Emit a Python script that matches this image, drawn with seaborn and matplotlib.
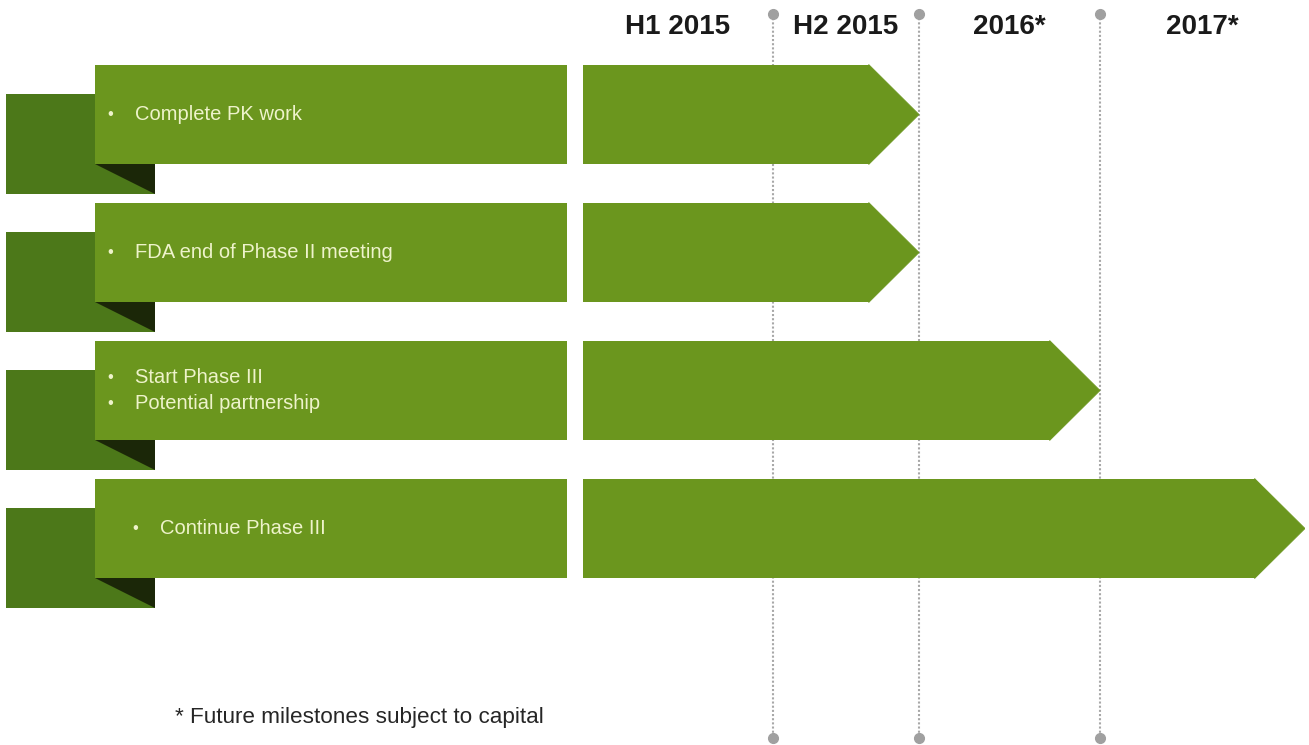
import numpy as np
import pandas as pd
import matplotlib
matplotlib.use("Agg")
import matplotlib.pyplot as plt
from matplotlib.patches import Rectangle, Polygon
import seaborn as sns

# ---- content -------------------------------------------------------------
periods = ["H1 2015", "H2 2015", "2016*", "2017*"]
milestones = [
    ["Complete PK work"],
    ["FDA end of Phase II meeting"],
    ["Start Phase III", "Potential partnership"],
    ["Continue Phase III"],
]
start_period = [0, 0, 0, 0]      # timeline position where each bar starts
end_period = [2, 2, 3, 4]        # period boundary each milestone reaches
footnote = "* Future milestones subject to capital"

# ---- styling -------------------------------------------------------------
W, H = 1309, 745
GREEN = "#6b961e"
GREEN_BACK = "#4c7819"
FOLD = "#1b2708"
TEXT_LIGHT = "#eef3cb"
DIVIDER = "#a8a8a8"
DOT = "#a0a0a0"

sns.set_theme(style="white")
plt.rcParams["font.family"] = ["Liberation Sans", "DejaVu Sans"]

fig = plt.figure(figsize=(W / 100, H / 100), dpi=100)
fig.patch.set_facecolor("white")

ROW_PX, ROW0_PX = 138.0, 114.5


def px_to_row(y):
    return (y - ROW0_PX) / ROW_PX


ylim = (px_to_row(H), px_to_row(0))
half = 0.362          # half bar height, in row units
back_shift = 0.212    # drop of the ribbon tail behind each label box
head_px = 50          # arrow head length in pixels

TL_LEFT, TL_RIGHT = 583, 1305
ax_l = fig.add_axes([0, 0, TL_LEFT / W, 1])
ax_t = fig.add_axes([TL_LEFT / W, 0, (TL_RIGHT - TL_LEFT) / W, 1])

# uneven period widths on the timeline
edge_px = np.array([0, 190, 336, 517, 722], float)
edge_idx = np.arange(len(periods) + 1, dtype=float)


def fwd(x):
    return np.interp(x, edge_idx, edge_px)


def inv(p):
    return np.interp(p, edge_px, edge_idx)


ax_t.set_xscale("function", functions=(fwd, inv))
ax_t.set_xlim(0, len(periods))
ax_t.set_ylim(*ylim)

# where each arrow head begins (fixed pixel length before the tip)
bases = []
for e in end_period:
    tip = ax_t.transData.transform((e, 0))
    bases.append(ax_t.transData.inverted().transform((tip[0] - head_px, tip[1]))[0])

rows = [str(i) for i in range(len(milestones))]
df = pd.DataFrame({"row": rows, "body": bases})
sns.barplot(data=df, x="body", y="row", orient="h", color=GREEN, saturation=1,
            width=2 * half, errorbar=None, linewidth=0, ax=ax_t, zorder=3)
ax_t.set_xlim(0, len(periods))
ax_t.set_ylim(*ylim)

for i, (b, e) in enumerate(zip(bases, end_period)):
    ax_t.fill([b - 0.002, e, b - 0.002], [i - half, i, i + half],
              color=GREEN, lw=0.6, ec=GREEN, zorder=3)

# period dividers
y_top, y_bot = px_to_row(14), px_to_row(738)
for k in range(1, len(periods)):
    ax_t.plot([k, k], [y_top, y_bot], ls=(0, (1, 1)), lw=1.5, color=DIVIDER,
              zorder=1, clip_on=False)
    ax_t.plot([k, k], [y_top, y_bot], "o", ms=7, color=DOT, ls="none",
              zorder=1.1, clip_on=False)

# period headers
for k, label in enumerate(periods):
    ax_t.text(k + 0.5, px_to_row(27), label, ha="center", va="center",
              fontsize=20, fontweight="bold", color="#1a1a1a")

# ---- ribbon label boxes --------------------------------------------------
ax_l.set_xlim(0, TL_LEFT)
ax_l.set_ylim(*ylim)
bullet_x = [107, 107, 107, 132]
for i, lines in enumerate(milestones):
    top, bot = i - half, i + half
    ax_l.add_patch(Rectangle((6, top + back_shift), 149, 2 * half,
                             color=GREEN_BACK, lw=0, zorder=1))
    ax_l.add_patch(Polygon([(95, bot), (155, bot), (155, bot + back_shift)],
                           closed=True, color=FOLD, lw=0, zorder=1.5))
    ax_l.add_patch(Rectangle((95, top), 472, 2 * half, color=GREEN, lw=0, zorder=2))
    n = len(lines)
    for j, line in enumerate(lines):
        y = i + (j - (n - 1) / 2) * 0.19
        ax_l.text(bullet_x[i], y, "\u2022", ha="left", va="center",
                  fontsize=12, color=TEXT_LIGHT, zorder=4)
        ax_l.text(bullet_x[i] + 28, y, line, ha="left", va="center",
                  fontsize=14.5, color=TEXT_LIGHT, zorder=4)

ax_l.text(175, px_to_row(718), footnote, ha="left", va="center",
          fontsize=16.2, color="#262626")

for ax in (ax_l, ax_t):
    ax.axis("off")

fig.savefig("out.png", dpi=100, facecolor="white")
